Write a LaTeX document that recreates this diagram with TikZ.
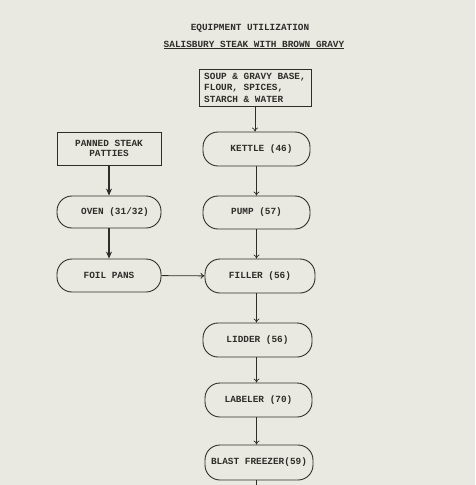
\documentclass[tikz,border=0pt]{standalone}
\usepackage{fontspec}
\setmonofont{Liberation Mono}
\usetikzlibrary{arrows.meta,positioning}
\definecolor{paper}{RGB}{234,233,225}
\definecolor{ink}{RGB}{45,45,42}
\tikzset{every path/.style={ink,line width=0.9pt}, every node/.style={font=\ttfamily\bfseries\fontsize{9.4}{10.5}\selectfont, text=ink, inner sep=2pt}}
\tikzset{proc/.style={draw, rounded corners=15pt, minimum width=107pt, minimum height=34pt},
         inbox/.style={draw, minimum width=104pt, minimum height=33pt, align=center},
         heavy/.style={-{Stealth[length=7pt,width=6pt]}, line width=1.1pt},
         thin/.style={-{To[length=4pt,width=6pt]}, line width=0.7pt}}

\begin{document}
\begin{tikzpicture}[x=1pt,y=-1pt]
  \useasboundingbox[fill=paper] (0,0) rectangle (475,485);
  \node (ttl) at (250,28) {EQUIPMENT UTILIZATION};
  \node (sub) at (254,45) {\underline{SALISBURY STEAK WITH BROWN GRAVY}};
  % right column
  \node[draw, minimum width=112pt, minimum height=37pt, align=left, font=\ttfamily\bfseries\fontsize{9.4}{11.5}\selectfont] (base) at (255,87.5) {SOUP \& GRAVY BASE,\\FLOUR, SPICES,\\STARCH \& WATER};
  \node[proc] (kettle) at (256.5,149) {\hspace{10pt}KETTLE (46)};
  \node[proc, minimum height=33pt] (pump) at (256.5,212.5) {PUMP (57)};
  \node[proc, minimum width=110pt] (filler) at (260,276) {FILLER (56)};
  \node[proc, minimum width=109pt] (lidder) at (257.5,340) {LIDDER (56)};
  \node[proc] (labeler) at (258.5,400) {LABELER (70)};
  \node[proc, minimum width=108pt, minimum height=35pt] (freezer) at (259,462.5) {BLAST FREEZER(59)};
  \coordinate (out) at (256,485);
  % left column
  \node[inbox] (patties) at (109,148.5) {PANNED STEAK\\PATTIES};
  \node[proc, minimum width=104pt, minimum height=32pt] (oven) at (109,212) {\hspace{12pt}OVEN (31/32)};
  \node[proc, minimum width=104pt, minimum height=33pt] (foil) at (109,275.5) {FOIL PANS};
  % arrows
  \draw[thin] (base.south) -- (base.south |- kettle.north);
  \draw[thin] (kettle.south) -- (kettle.south |- pump.north);
  \draw[thin] (pump.south) -- (pump.south |- filler.north);
  \draw[thin] (filler.south -| pump.south) -- (pump.south |- lidder.north);
  \draw[thin] (lidder.south -| pump.south) -- (pump.south |- labeler.north);
  \draw[thin] (labeler.south -| pump.south) -- (pump.south |- freezer.north);
  \draw (freezer.south -| out) -- (out);
  \draw[heavy] (patties) -- (oven);
  \draw[heavy] (oven) -- (foil);
  \draw[thin, line width=0.9pt] (foil) -- (filler);
\end{tikzpicture}
\end{document}
